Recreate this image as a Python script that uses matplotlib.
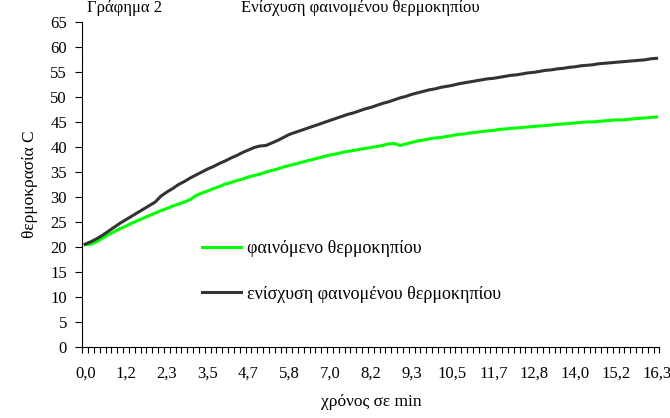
import matplotlib
matplotlib.use('Agg')
import matplotlib.pyplot as plt

# Δεδομένα (μετρήσεις κάθε 10 s)
xronos = [i / 6 for i in range(99)]

thermokipio = [20.5, 20.6, 21.1, 21.8, 22.5, 23.1, 23.7, 24.2, 24.8, 25.3,
               25.8, 26.3, 26.8, 27.3, 27.7, 28.2, 28.6, 29.0, 29.5, 30.3,
               30.8, 31.2, 31.7, 32.1, 32.6, 32.9, 33.3, 33.6, 34.0, 34.3,
               34.6, 35.0, 35.3, 35.6, 36.0, 36.3, 36.6, 36.9, 37.2, 37.5,
               37.8, 38.1, 38.4, 38.6, 38.9, 39.1, 39.3, 39.5, 39.7, 39.9,
               40.1, 40.3, 40.6, 40.7, 40.3, 40.6, 40.9, 41.2, 41.4, 41.6,
               41.8, 41.9, 42.1, 42.3, 42.5, 42.6, 42.8, 42.9, 43.1, 43.2,
               43.3, 43.5, 43.6, 43.7, 43.8, 43.9, 44.0, 44.1, 44.2, 44.3,
               44.4, 44.5, 44.6, 44.7, 44.8, 44.9, 45.0, 45.0, 45.1, 45.2,
               45.3, 45.4, 45.4, 45.5, 45.6, 45.7, 45.8, 45.9, 46.0]

enisxysi = [20.6, 21.1, 21.7, 22.4, 23.2, 24.0, 24.8, 25.5, 26.2, 26.9,
            27.6, 28.3, 29.0, 30.2, 31.0, 31.7, 32.5, 33.1, 33.8, 34.4,
            35.0, 35.6, 36.1, 36.7, 37.2, 37.8, 38.3, 38.9, 39.4, 39.9,
            40.2, 40.3, 40.8, 41.3, 41.9, 42.5, 42.9, 43.3, 43.7, 44.1,
            44.5, 44.9, 45.3, 45.7, 46.1, 46.5, 46.8, 47.2, 47.6, 47.9,
            48.3, 48.7, 49.0, 49.4, 49.8, 50.1, 50.5, 50.8, 51.1, 51.4,
            51.6, 51.9, 52.1, 52.3, 52.6, 52.8, 53.0, 53.2, 53.4, 53.6,
            53.7, 53.9, 54.1, 54.3, 54.4, 54.6, 54.8, 54.9, 55.1, 55.3,
            55.4, 55.6, 55.7, 55.9, 56.0, 56.2, 56.3, 56.4, 56.6, 56.7,
            56.8, 56.9, 57.0, 57.1, 57.2, 57.3, 57.4, 57.6, 57.7]

plt.rcParams['font.family'] = ['Liberation Serif', 'DejaVu Serif']

fig = plt.figure(figsize=(6.7, 4.18), dpi=100)
ax = fig.add_axes([0.1228, 0.169, 0.8615, 0.779])

pos = list(range(len(xronos)))
ax.plot(pos, thermokipio, color='#00ff00', lw=2.2, label='φαινόμενο θερμοκηπίου')
ax.plot(pos, enisxysi, color='#333333', lw=2.2, label='ενίσχυση φαινομένου θερμοκηπίου')

ax.set_xlim(-0.5, len(xronos) - 0.5)
ax.set_ylim(0, 65)
ax.set_yticks(range(0, 70, 5))

# ετικέτες κάθε 7 σημεία, γραμμές κάθε σημείο
lab_pos = pos[::7]
ax.set_xticks(lab_pos)
ax.set_xticklabels([f'{xronos[i]:.1f}'.replace('.', ',') for i in lab_pos])
ax.set_xticks([p - 0.5 for p in pos] + [pos[-1] + 0.5], minor=True)
ax.tick_params(axis='x', which='major', length=0, pad=13, labelsize=12)
ax.tick_params(axis='x', which='minor', length=4, direction='out', width=0.8)
ax.tick_params(axis='y', length=5, direction='out', pad=6, labelsize=12, width=0.8)

for s in ['top', 'right']:
    ax.spines[s].set_visible(False)
for s in ['left', 'bottom']:
    ax.spines[s].set_linewidth(0.8)

ax.set_xlabel('χρόνος σε min', fontsize=12.5, labelpad=9)
ax.set_ylabel('θερμοκρασία C', fontsize=12.5, labelpad=9)

ax.legend(loc='upper left', bbox_to_anchor=(0.207, 0.33), frameon=False,
          fontsize=13, handlelength=2.2, handletextpad=0.3, labelspacing=1.6,
          borderpad=0, borderaxespad=0)

# τίτλος
fig.text(87 / 670, 1.0, 'Γράφημα 2', fontsize=12, va='top')
fig.text(241 / 670, 1.0, 'Ενίσχυση φαινομένου θερμοκηπίου', fontsize=12, va='top')

fig.savefig('out.png', dpi=100)
